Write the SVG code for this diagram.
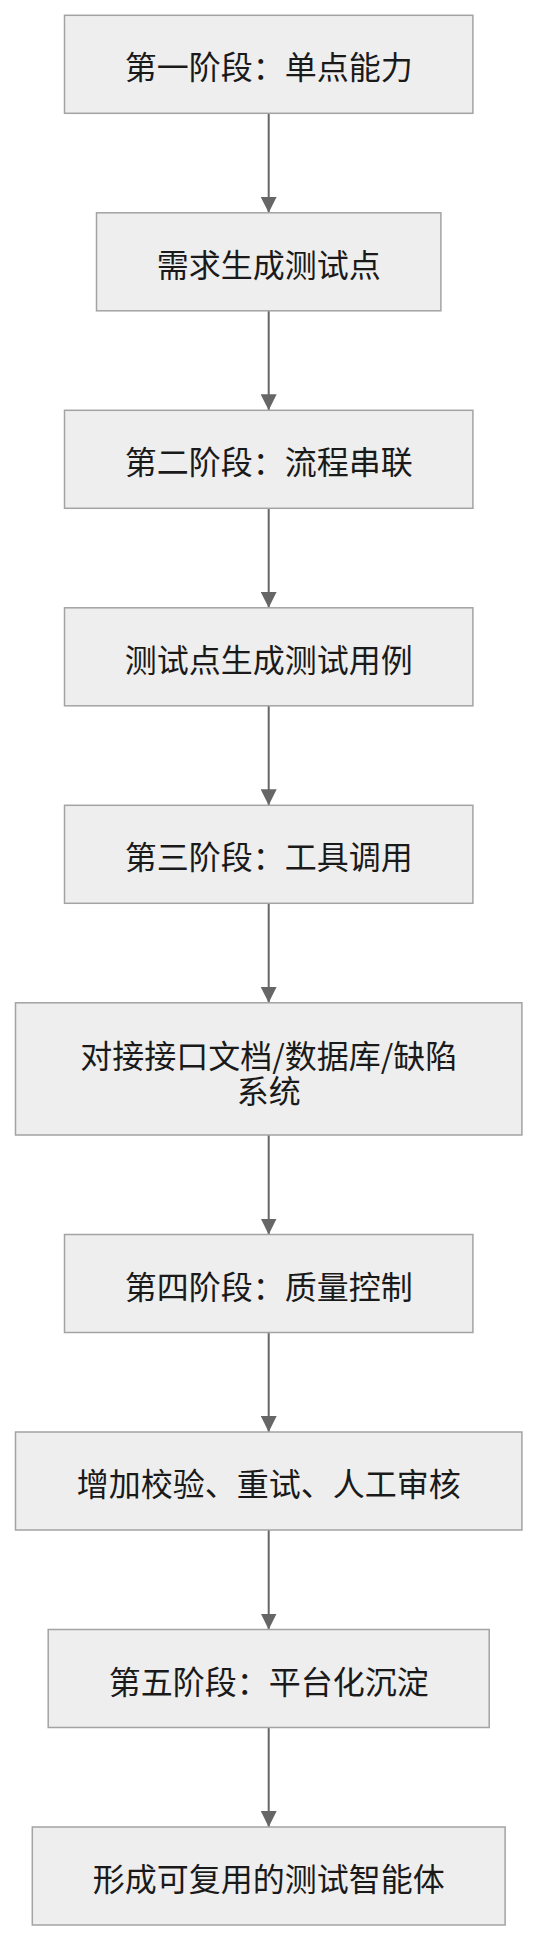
<svg xmlns="http://www.w3.org/2000/svg" width="538" height="1941" viewBox="0 0 538 1941">
<style>
.node rect{fill:#eeeeee;stroke:#a3a3a3;stroke-width:1.5}
.node text{font-family:"Noto Sans CJK SC","Noto Sans",sans-serif;font-size:32px;fill:#1a1a1a;text-anchor:middle;dominant-baseline:central}
.edge{stroke:#666;stroke-width:2;fill:none;marker-end:url(#arrow)}
</style>
<defs>
<marker id="arrow" markerUnits="userSpaceOnUse" markerWidth="16" markerHeight="16" refX="16" refY="8" orient="auto" viewBox="0 0 16 16">
<path d="M0,0 L16,8 L0,16 z" fill="#666"/>
</marker>
</defs>
<rect width="538" height="1941" fill="#fff"/>
<g id="connectors">
<line class="edge" x1="268.7" y1="113.3" x2="268.7" y2="212.8"/>
<line class="edge" x1="268.7" y1="310.8" x2="268.7" y2="410.3"/>
<line class="edge" x1="268.7" y1="508.3" x2="268.7" y2="607.8"/>
<line class="edge" x1="268.7" y1="705.8" x2="268.7" y2="805.3"/>
<line class="edge" x1="268.7" y1="903.3" x2="268.7" y2="1002.8"/>
<line class="edge" x1="268.7" y1="1135" x2="268.7" y2="1234.5"/>
<line class="edge" x1="268.7" y1="1332.5" x2="268.7" y2="1432"/>
<line class="edge" x1="268.7" y1="1530" x2="268.7" y2="1629.5"/>
<line class="edge" x1="268.7" y1="1727.5" x2="268.7" y2="1827"/>
</g>
<g id="n1" class="node"><rect x="64.5" y="15.3" width="408.4" height="98"/><text x="268.7" y="65.3">第一阶段：单点能力</text></g>
<g id="n2" class="node"><rect x="96.5" y="212.8" width="344.4" height="98"/><text x="268.7" y="262.8">需求生成测试点</text></g>
<g id="n3" class="node"><rect x="64.5" y="410.3" width="408.4" height="98"/><text x="268.7" y="460.3">第二阶段：流程串联</text></g>
<g id="n4" class="node"><rect x="64.5" y="607.8" width="408.4" height="98"/><text x="268.7" y="657.8">测试点生成测试用例</text></g>
<g id="n5" class="node"><rect x="64.5" y="805.3" width="408.4" height="98"/><text x="268.7" y="855.3">第三阶段：工具调用</text></g>
<g id="n6" class="node"><rect x="15.5" y="1002.8" width="506.4" height="132.2"/><text x="268.7" y="1053.6"><tspan x="268.7" y="1053.6">对接接口文档/数据库/缺陷</tspan><tspan x="268.7" y="1088.6">系统</tspan></text></g>
<g id="n7" class="node"><rect x="64.5" y="1234.5" width="408.4" height="98"/><text x="268.7" y="1284.5">第四阶段：质量控制</text></g>
<g id="n8" class="node"><rect x="15.5" y="1432" width="506.4" height="98"/><text x="268.7" y="1482">增加校验、重试、人工审核</text></g>
<g id="n9" class="node"><rect x="48.2" y="1629.5" width="441" height="98"/><text x="268.7" y="1679.5">第五阶段：平台化沉淀</text></g>
<g id="n10" class="node"><rect x="32.3" y="1827" width="472.8" height="98"/><text x="268.7" y="1877">形成可复用的测试智能体</text></g>
</svg>
